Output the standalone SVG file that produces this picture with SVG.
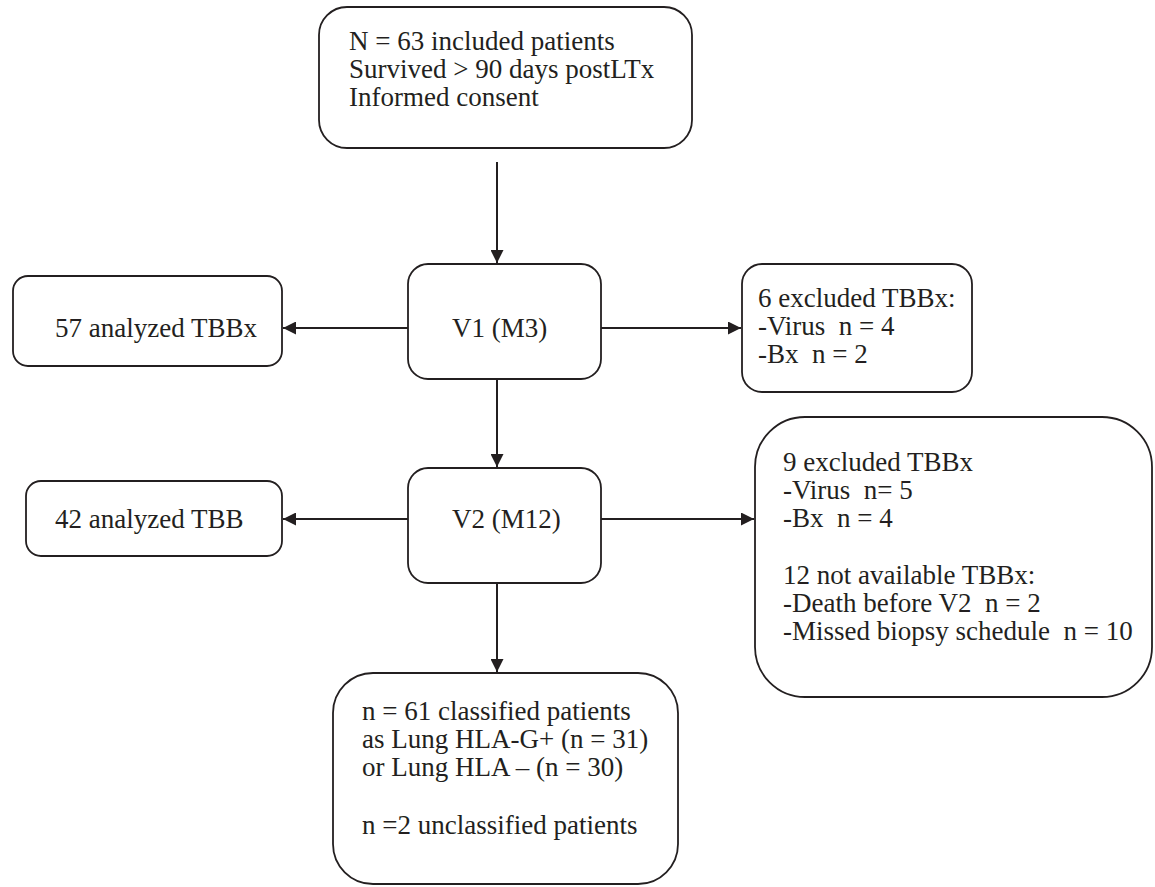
<svg xmlns="http://www.w3.org/2000/svg" width="1155" height="887" viewBox="0 0 1155 887">
<style>
.box{fill:#fff;stroke:#231f20;stroke-width:1.8}
.t{font-family:"Liberation Serif","Times New Roman",serif;font-size:27px;fill:#231f20;white-space:pre}
.c{stroke:#231f20;stroke-width:2;fill:none}
</style>
<defs>
<marker id="ah" viewBox="0 0 10 10" refX="10" refY="5" markerWidth="13" markerHeight="13" markerUnits="userSpaceOnUse" orient="auto">
<path d="M0,0 L10,5 L0,10 Z" fill="#231f20"/>
</marker>
</defs>
<rect width="1155" height="887" fill="#fff"/>
<g id="connectors">
<line class="c" x1="497" y1="162" x2="497" y2="263" marker-end="url(#ah)"/>
<line class="c" x1="408" y1="328" x2="283" y2="328" marker-end="url(#ah)"/>
<line class="c" x1="601" y1="328" x2="741" y2="328" marker-end="url(#ah)"/>
<line class="c" x1="497" y1="379" x2="497" y2="467" marker-end="url(#ah)"/>
<line class="c" x1="408" y1="519" x2="283" y2="519" marker-end="url(#ah)"/>
<line class="c" x1="601" y1="519" x2="754" y2="519" marker-end="url(#ah)"/>
<line class="c" x1="497" y1="583" x2="497" y2="672" marker-end="url(#ah)"/>
</g>
<g id="start">
<rect class="box" x="319" y="7" width="373" height="141" rx="28"/>
<text class="t" x="349" y="50">N = 63 included patients</text>
<text class="t" x="349" y="78">Survived &gt; 90 days postLTx</text>
<text class="t" x="349" y="106">Informed consent</text>
</g>
<g id="v1">
<rect class="box" x="408" y="264" width="193" height="115" rx="20"/>
<text class="t" x="452" y="337">V1 (M3)</text>
</g>
<g id="analyzed57">
<rect class="box" x="13" y="276" width="269" height="90" rx="15"/>
<text class="t" x="55" y="337">57 analyzed TBBx</text>
</g>
<g id="excluded6">
<rect class="box" x="742" y="264" width="230" height="128" rx="20"/>
<text class="t" x="758" y="307" xml:space="preserve">6 excluded TBBx:</text>
<text class="t" x="758" y="335" xml:space="preserve">-Virus  n = 4</text>
<text class="t" x="758" y="363" xml:space="preserve">-Bx  n = 2</text>
</g>
<g id="v2">
<rect class="box" x="408" y="468" width="193" height="115" rx="20"/>
<text class="t" x="452" y="528">V2 (M12)</text>
</g>
<g id="analyzed42">
<rect class="box" x="26" y="481" width="256" height="75" rx="15"/>
<text class="t" x="55" y="528">42 analyzed TBB</text>
</g>
<g id="excluded9">
<rect class="box" x="755" y="417" width="397" height="280" rx="50"/>
<text class="t" x="783" y="471" xml:space="preserve">9 excluded TBBx</text>
<text class="t" x="783" y="499" xml:space="preserve">-Virus  n= 5</text>
<text class="t" x="783" y="527" xml:space="preserve">-Bx  n = 4</text>
<text class="t" x="783" y="584" xml:space="preserve">12 not available TBBx:</text>
<text class="t" x="783" y="612" xml:space="preserve">-Death before V2  n = 2</text>
<text class="t" x="783" y="640" xml:space="preserve">-Missed biopsy schedule  n = 10</text>
</g>
<g id="classified">
<rect class="box" x="333" y="673" width="345" height="211" rx="40"/>
<text class="t" x="362" y="720">n = 61 classified patients</text>
<text class="t" x="362" y="748">as Lung HLA-G+ (n = 31)</text>
<text class="t" x="362" y="776">or Lung HLA – (n = 30)</text>
<text class="t" x="362" y="834">n =2 unclassified patients</text>
</g>
</svg>
